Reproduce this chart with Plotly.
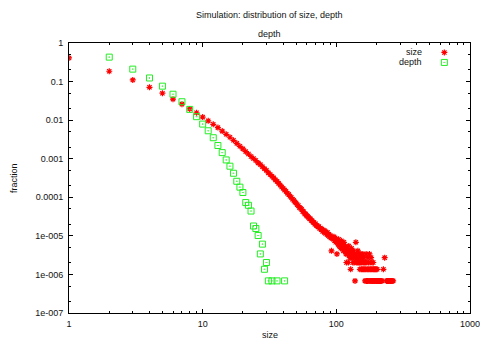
import plotly.graph_objects as go

# Fraction of simulated trees by size
size_x = list(range(1, 141)) + [
    141, 142, 143, 144, 145, 146, 147, 148, 149, 150, 151, 152, 153, 154, 155,
    156, 157, 158, 159, 160, 161, 162, 163, 164, 165, 166, 167, 168, 169, 170,
    171, 172, 173, 174, 175, 176, 177, 178, 179, 180, 181, 182, 183, 184, 185,
    186, 187, 188, 189, 190, 191, 192, 193, 195, 196, 198, 199, 200, 202, 203,
    205, 207, 208, 210, 212, 214, 216, 219, 225, 230, 238, 241, 243, 246, 249,
    253, 255, 258, 262, 266]
size_frac = [
    0.41, 0.185, 0.11, 0.071, 0.050, 0.035, 0.026, 0.0195, 0.0155, 0.012,
    0.0096, 0.0078, 0.0064, 0.0052, 0.0043, 0.0036, 0.0030, 0.0025, 0.0021, 0.0018,
    0.00153, 0.00132, 0.00114, 0.00101, 0.00090, 0.00078, 0.00071, 0.00062, 0.00055, 0.00050,
    0.00043, 0.00039, 0.00035, 0.000318, 0.000282, 0.000258, 0.000229, 0.000209, 0.000185, 0.000172,
    0.000153, 0.000143, 0.000127, 0.000119, 0.000106, 0.0001, 8.9e-5, 8.4e-5, 7.5e-5, 7.1e-5,
    6.4e-5, 6.1e-5, 5.4e-5, 5.2e-5, 4.9e-5, 4.3e-5, 4.2e-5, 3.7e-5, 3.7e-5, 3.3e-5,
    3.2e-5, 3.0e-5, 2.8e-5, 2.75e-5, 2.5e-5, 2.45e-5, 2.25e-5, 2.2e-5, 2.0e-5, 2.05e-5,
    1.85e-5, 1.8e-5, 1.7e-5, 1.75e-5, 1.55e-5, 1.6e-5, 1.45e-5, 1.5e-5, 1.3e-5, 1.4e-5,
    1.25e-5, 1.36e-5, 1.16e-5, 1.22e-5, 1.09e-5, 1.22e-5, 1.02e-5, 1.09e-5, 9.52e-6, 1.02e-5,
    8.84e-6, 4.08e-6, 9.52e-6, 8.84e-6, 8.16e-6, 9.52e-6, 7.48e-6, 8.84e-6, 6.8e-6, 8.16e-6,
    3.4e-6, 7.48e-6, 6.12e-6, 8.16e-6, 5.44e-6, 6.8e-6, 6.12e-6, 4.76e-6, 7.48e-6, 5.44e-6,
    4.76e-6, 6.12e-6, 4.08e-6, 6.8e-6, 4.76e-6, 4.08e-6, 5.44e-6, 3.4e-6, 2.04e-6, 4.76e-6,
    3.4e-6, 4.08e-6, 2.04e-6, 5.44e-6, 3.4e-6, 2.72e-6, 4.08e-6, 1.36e-6, 3.4e-6, 4.76e-6,
    2.72e-6, 3.4e-6, 2.04e-6, 4.08e-6, 2.72e-6, 2.04e-6, 3.4e-6, 6.8e-7, 2.72e-6, 6.8e-6,
    2.04e-6, 3.4e-6, 2.72e-6, 2.04e-6, 4.08e-6, 2.72e-6, 2.04e-6, 3.4e-6, 2.04e-6, 1.36e-6,
    2.72e-6, 2.04e-6, 3.4e-6, 1.36e-6, 2.04e-6, 2.72e-6, 1.36e-6, 3.4e-6, 2.04e-6, 1.36e-6,
    2.72e-6, 2.04e-6, 1.36e-6, 6.8e-7, 2.04e-6, 1.36e-6, 3.4e-6, 6.8e-7, 2.04e-6, 1.36e-6,
    6.8e-7, 2.72e-6, 1.36e-6, 2.04e-6, 6.8e-7, 1.36e-6, 3.4e-6, 6.8e-7, 2.04e-6, 1.36e-6,
    6.8e-7, 2.72e-6, 1.36e-6, 6.8e-7, 2.04e-6, 6.8e-7, 1.36e-6, 6.8e-7, 2.04e-6, 1.36e-6,
    6.8e-7, 6.8e-7, 1.36e-6, 6.8e-7, 1.36e-6, 6.8e-7, 1.36e-6, 6.8e-7, 1.36e-6, 6.8e-7,
    6.8e-7, 6.8e-7, 6.8e-7, 6.8e-7, 6.8e-7, 6.8e-7, 6.8e-7, 6.8e-7, 1.36e-6, 2.72e-6,
    6.8e-7, 6.8e-7, 6.8e-7, 6.8e-7, 6.8e-7, 6.8e-7, 6.8e-7, 6.8e-7, 6.8e-7, 6.8e-7]

# Fraction of simulated trees by depth
depth_x = list(range(2, 32)) + [33, 36, 41]
depth_frac = [
    0.43, 0.21, 0.124, 0.076, 0.047, 0.030, 0.019, 0.0123, 0.0079, 0.0053,
    0.0035, 0.0022, 0.00144, 0.00093, 0.00064, 0.00042, 0.00026, 0.000183, 0.000133, 7.3e-5,
    6.2e-5, 4.4e-5, 1.8e-5, 1.55e-5, 1.02e-5, 3.4e-6, 6.1e-6, 1.36e-6, 2.04e-6, 6.8e-7,
    6.8e-7, 6.8e-7, 6.8e-7]

x_tickvals = [1, 10, 100, 1000]
x_ticktext = ["1", "10", "100", "1000"]
y_tickvals = [1, 0.1, 0.01, 0.001, 0.0001, 1e-5, 1e-6, 1e-7]
y_ticktext = ["1", "0.1", "0.01", "0.001", "0.0001", "1e-005", "1e-006", "1e-007"]

RED = "#ff0000"
GREEN = "#22ee22"
FONT = "Liberation Sans, Arial, sans-serif"

size_marker = dict(symbol="asterisk-open", size=5, color=RED,
                   line=dict(color=RED, width=1.2))
depth_marker = dict(symbol="square-open-dot", size=6, color=GREEN,
                    line=dict(color=GREEN, width=1))

fig = go.Figure()
fig.add_trace(go.Scatter(x=size_x, y=size_frac, mode="markers", name="size",
                         marker=size_marker))
fig.add_trace(go.Scatter(x=depth_x, y=depth_frac, mode="markers", name="depth",
                         marker=depth_marker))

# key samples drawn to the right of the key labels
fig.add_trace(go.Scatter(x=[0.936], y=[0.965], xaxis="x2", yaxis="y2",
                         mode="markers", marker=size_marker, hoverinfo="skip"))
fig.add_trace(go.Scatter(x=[0.936], y=[0.928], xaxis="x2", yaxis="y2",
                         mode="markers", marker=depth_marker, hoverinfo="skip"))

axis_common = dict(
    showline=True, linecolor="black", linewidth=1, mirror="allticks",
    ticks="inside", ticklen=4, tickcolor="black", tickwidth=1,
    showgrid=False, zeroline=False, ticklabeloverflow="allow", automargin=False,
    tickfont=dict(family=FONT, size=9, color="#111"),
)

fig.update_layout(
    width=480, height=339,
    margin=dict(l=69, r=10, t=43, b=26, autoexpand=False),
    paper_bgcolor="white", plot_bgcolor="white",
    showlegend=False,
    font=dict(family=FONT, size=9, color="#111"),
    xaxis=dict(
        type="log", range=[0, 3],
        tickvals=x_tickvals, ticktext=x_ticktext,
        minor=dict(ticks="inside", ticklen=2, tickcolor="black", dtick="D1", showgrid=False),
        ticklabelstandoff=2,
        **axis_common,
    ),
    yaxis=dict(
        type="log", range=[-7, 0],
        tickvals=y_tickvals, ticktext=y_ticktext,
        minor=dict(ticks="inside", ticklen=2, tickcolor="black", dtick="D2", showgrid=False),
        ticklabelstandoff=3,
        **axis_common,
    ),
    xaxis2=dict(overlaying="x", range=[0, 1], visible=False, fixedrange=True),
    yaxis2=dict(overlaying="y", range=[0, 1], visible=False, fixedrange=True),
    annotations=[
        dict(text="Simulation: distribution of size, depth", xref="paper", yref="paper",
             x=0.5, y=1.104, showarrow=False, xanchor="center", yanchor="middle",
             font=dict(family=FONT, size=9, color="#111")),
        dict(text="depth", xref="paper", yref="paper",
             x=0.5, y=1.033, showarrow=False, xanchor="center", yanchor="middle",
             font=dict(family=FONT, size=9, color="#111")),
        dict(text="fraction", xref="paper", yref="paper", textangle=-90,
             x=-0.137, y=0.5, showarrow=False, xanchor="center", yanchor="middle",
             font=dict(family=FONT, size=9, color="#111")),
        dict(text="size", xref="paper", yref="paper",
             x=0.5, y=-0.0815, showarrow=False, xanchor="center", yanchor="middle",
             font=dict(family=FONT, size=9, color="#111")),
        dict(text="size", xref="paper", yref="paper",
             x=0.885, y=0.965, showarrow=False, xanchor="right", yanchor="middle",
             font=dict(family=FONT, size=9, color="#111")),
        dict(text="depth", xref="paper", yref="paper",
             x=0.885, y=0.928, showarrow=False, xanchor="right", yanchor="middle",
             font=dict(family=FONT, size=9, color="#111")),
    ],
)

fig.write_html("out.html")
